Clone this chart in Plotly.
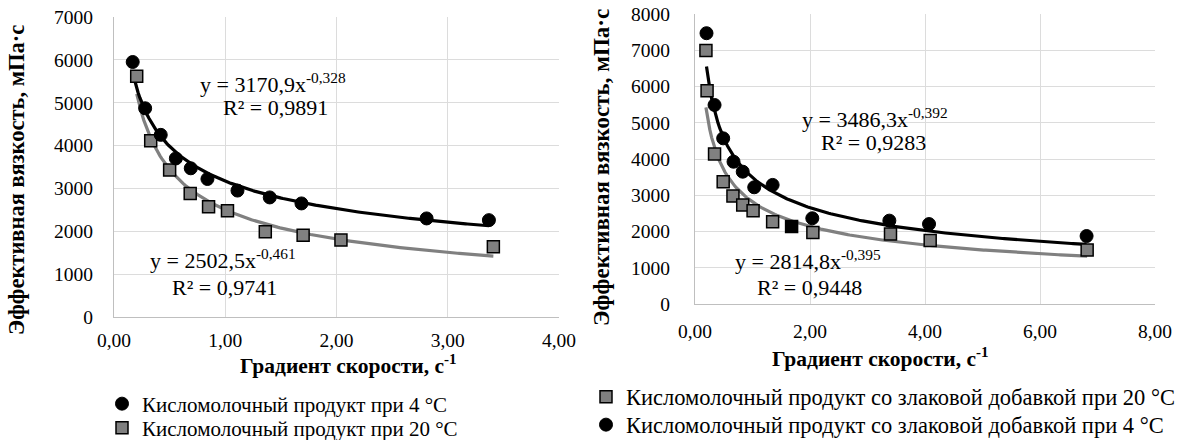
import numpy as np
import plotly.graph_objects as go

# ---- Left panel: fermented milk product ----
left_x_4c = [0.168, 0.28, 0.42, 0.556, 0.69, 0.84, 1.11, 1.40, 1.685, 2.81, 3.37]
left_y_4c = [5950, 4870, 4250, 3700, 3470, 3220, 2950, 2790, 2650, 2300, 2260]
left_x_20c = [0.204, 0.33, 0.50, 0.685, 0.85, 1.02, 1.36, 1.70, 2.04, 3.41]
left_y_20c = [5620, 4110, 3430, 2880, 2570, 2480, 1990, 1910, 1795, 1640]
left_fit_4c = (3170.9, -0.328)
left_fit_20c = (2502.5, -0.461)

# ---- Right panel: product with cereal additive ----
right_x_20c = [0.19, 0.21, 0.34, 0.49, 0.66, 0.83, 1.01, 1.35, 1.68, 2.05, 3.40, 4.09, 6.82]
right_y_20c = [6990, 5885, 4140, 3375, 2980, 2730, 2575, 2270, 2135, 1970, 1930, 1750, 1490]
right_x_4c = [0.20, 0.34, 0.49, 0.67, 0.83, 1.03, 1.35, 2.04, 3.38, 4.07, 6.81]
right_y_4c = [7470, 5490, 4570, 3925, 3650, 3220, 3285, 2365, 2300, 2205, 1875]
right_fit_4c = (3486.3, -0.392)
right_fit_20c = (2814.8, -0.395)

left_names = ["Кисломолочный продукт при 4 °С", "Кисломолочный продукт при 20 °С"]
right_names = ["Кисломолочный продукт со злаковой добавкой при 20 °С",
               "Кисломолочный продукт со злаковой добавкой при 4 °С"]

y_title = "Эффективная вязкость, мПа·с"
x_title = "Градиент скорости, с<sup>-1</sup>"

FONT = "Liberation Serif"
GRAY = "#808080"
W, H = 1182, 440


def px(xp):
    return xp / W


def py(yp):
    return 1 - yp / H


def power_curve(xs, coef):
    a, b = coef
    xx = np.linspace(min(xs), max(xs), 200)
    return xx, a * xx ** b


fig = go.Figure()


def add_circles(xs, ys, name, xa, ya, legend):
    fig.add_trace(go.Scatter(
        x=xs, y=ys, mode="markers", name=name, xaxis=xa, yaxis=ya, legend=legend,
        marker=dict(symbol="circle", size=13, color="black",
                    line=dict(color="black", width=1))))


def add_squares(xs, ys, name, xa, ya, legend, colors=None):
    fig.add_trace(go.Scatter(
        x=xs, y=ys, mode="markers", name=name, xaxis=xa, yaxis=ya, legend=legend,
        marker=dict(symbol="square", size=12, color=colors or GRAY,
                    line=dict(color="black", width=1.5))))


def add_fit(xs, coef, color, xa, ya):
    xx, yy = power_curve(xs, coef)
    fig.add_trace(go.Scatter(
        x=xx, y=yy, mode="lines", xaxis=xa, yaxis=ya, showlegend=False,
        line=dict(color=color, width=3.2), hoverinfo="skip"))


# trend lines under the markers
add_fit(left_x_20c, left_fit_20c, GRAY, "x", "y")
add_fit(left_x_4c, left_fit_4c, "black", "x", "y")
add_fit(right_x_20c, right_fit_20c, GRAY, "x2", "y2")
add_fit(right_x_4c, right_fit_4c, "black", "x2", "y2")

add_squares(left_x_20c, left_y_20c, left_names[1], "x", "y", "legend3")
add_circles(left_x_4c, left_y_4c, left_names[0], "x", "y", "legend")

# one point of the 20 °C series is filled black
right_sq_colors = [GRAY] * len(right_x_20c)
right_sq_colors[8] = "black"
add_squares(right_x_20c, right_y_20c, right_names[0], "x2", "y2", "legend2", right_sq_colors)
add_circles(right_x_4c, right_y_4c, right_names[1], "x2", "y2", "legend4")

axis_common = dict(
    showline=True, linecolor="#bfbfbf", linewidth=1.3,
    showgrid=True, gridcolor="#dcdcdc", gridwidth=1,
    zeroline=False, ticks="outside", tickcolor="rgba(0,0,0,0)",
    tickfont=dict(family=FONT, size=19.5, color="black"),
)


def legend_box(xp, yp, size):
    return dict(x=px(xp), y=py(yp), xanchor="left", yanchor="middle",
                font=dict(family=FONT, size=size, color="black"),
                itemwidth=30, bgcolor="rgba(0,0,0,0)")


fig.update_layout(
    width=W, height=H,
    margin=dict(l=0, r=0, t=0, b=0, autoexpand=False),
    paper_bgcolor="white", plot_bgcolor="white",
    separators=", ",
    font=dict(family=FONT, color="black"),
    xaxis=dict(domain=[px(114), px(559)], range=[0, 4], dtick=1, tickformat=".2f",
               anchor="y", ticklen=5, **axis_common),
    yaxis=dict(domain=[py(317), py(17)], range=[0, 7000], dtick=1000, tickformat="d",
               anchor="x", ticklen=16, **axis_common),
    xaxis2=dict(domain=[px(695), px(1155)], range=[0, 8], dtick=2, tickformat=".2f",
                anchor="y2", ticklen=9, **axis_common),
    yaxis2=dict(domain=[py(304), py(14)], range=[0, 8000], dtick=1000, tickformat="d",
                anchor="x2", ticklen=20, **axis_common),
    legend=legend_box(102, 404, 21),
    legend3=legend_box(102, 428, 21),
    legend2=legend_box(586, 397, 22.5),
    legend4=legend_box(586, 425, 22.5),
    showlegend=True,
)

eq_font = dict(family=FONT, size=22, color="black")

annotations = [
    # left panel fits
    dict(x=px(273), y=py(83), text="y = 3170,9x<sup>-0,328</sup>"),
    dict(x=px(275), y=py(107), text="R² = 0,9891"),
    dict(x=px(223), y=py(259), text="y = 2502,5x<sup>-0,461</sup>"),
    dict(x=px(224), y=py(287), text="R² = 0,9741"),
    # right panel fits
    dict(x=px(875), y=py(118), text="y = 3486,3x<sup>-0,392</sup>"),
    dict(x=px(873), y=py(143), text="R² = 0,9283"),
    dict(x=px(808), y=py(260), text="y = 2814,8x<sup>-0,395</sup>"),
    dict(x=px(809), y=py(287), text="R² = 0,9448"),
]
for a in annotations:
    fig.add_annotation(xref="paper", yref="paper", showarrow=False,
                       xanchor="center", yanchor="middle", font=eq_font, **a)

# axis titles
for x, y, txt, ang, size in [
    (px(348), py(364), "<b>" + x_title + "</b>", 0, 21.5),
    (px(880), py(357), "<b>" + x_title + "</b>", 0, 21.5),
    (px(16), py(180), "<b>" + y_title + "</b>", -90, 22.5),
    (px(601), py(167), "<b>" + y_title + "</b>", -90, 23),
]:
    fig.add_annotation(xref="paper", yref="paper", x=x, y=y, text=txt, textangle=ang,
                       showarrow=False, xanchor="center", yanchor="middle",
                       font=dict(family=FONT, size=size, color="black"))

fig.write_html("out.html")
